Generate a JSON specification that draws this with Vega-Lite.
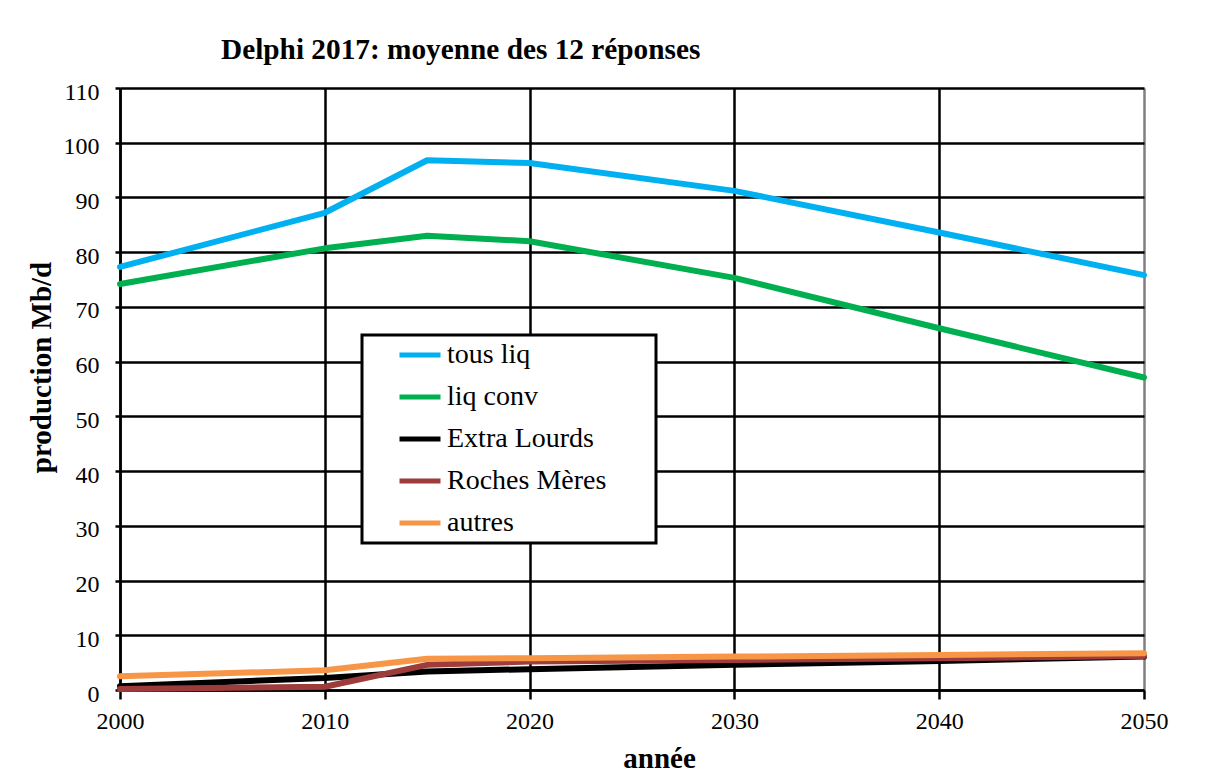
{
  "$schema": "https://vega.github.io/schema/vega-lite/v6.json",
  "width": 1024,
  "height": 602,
  "autosize": {"type": "none"},
  "padding": {"left": 120, "top": 88, "right": 69, "bottom": 86},
  "background": "white",
  "title": {
    "text": "Delphi 2017: moyenne des 12 réponses",
    "anchor": "start",
    "frame": "group",
    "font": "Liberation Serif",
    "fontSize": 29.3,
    "fontWeight": "bold",
    "color": "black",
    "dx": 101,
    "offset": 15
  },
  "data": {
    "values": [
      {"annee": 2000, "serie": "tous liq", "valeur": 77.3},
      {"annee": 2010, "serie": "tous liq", "valeur": 87.2},
      {"annee": 2015, "serie": "tous liq", "valeur": 96.8},
      {"annee": 2020, "serie": "tous liq", "valeur": 96.3},
      {"annee": 2030, "serie": "tous liq", "valeur": 91.2},
      {"annee": 2040, "serie": "tous liq", "valeur": 83.6},
      {"annee": 2050, "serie": "tous liq", "valeur": 75.8},
      {"annee": 2000, "serie": "liq conv", "valeur": 74.2},
      {"annee": 2010, "serie": "liq conv", "valeur": 80.7},
      {"annee": 2015, "serie": "liq conv", "valeur": 83.0},
      {"annee": 2020, "serie": "liq conv", "valeur": 82.0},
      {"annee": 2030, "serie": "liq conv", "valeur": 75.3},
      {"annee": 2040, "serie": "liq conv", "valeur": 66.1},
      {"annee": 2050, "serie": "liq conv", "valeur": 57.1},
      {"annee": 2000, "serie": "Extra Lourds", "valeur": 0.7},
      {"annee": 2010, "serie": "Extra Lourds", "valeur": 2.2},
      {"annee": 2015, "serie": "Extra Lourds", "valeur": 3.4},
      {"annee": 2020, "serie": "Extra Lourds", "valeur": 3.8},
      {"annee": 2030, "serie": "Extra Lourds", "valeur": 4.6},
      {"annee": 2040, "serie": "Extra Lourds", "valeur": 5.3},
      {"annee": 2050, "serie": "Extra Lourds", "valeur": 6.1},
      {"annee": 2000, "serie": "Roches Mères", "valeur": 0.2},
      {"annee": 2010, "serie": "Roches Mères", "valeur": 0.6},
      {"annee": 2015, "serie": "Roches Mères", "valeur": 4.6},
      {"annee": 2020, "serie": "Roches Mères", "valeur": 5.2},
      {"annee": 2030, "serie": "Roches Mères", "valeur": 5.5},
      {"annee": 2040, "serie": "Roches Mères", "valeur": 5.8},
      {"annee": 2050, "serie": "Roches Mères", "valeur": 6.2},
      {"annee": 2000, "serie": "autres", "valeur": 2.5},
      {"annee": 2010, "serie": "autres", "valeur": 3.6},
      {"annee": 2015, "serie": "autres", "valeur": 5.7},
      {"annee": 2020, "serie": "autres", "valeur": 5.8},
      {"annee": 2030, "serie": "autres", "valeur": 6.1},
      {"annee": 2040, "serie": "autres", "valeur": 6.4},
      {"annee": 2050, "serie": "autres", "valeur": 6.7}
    ]
  },
  "mark": {"type": "line", "strokeWidth": 6, "strokeCap": "round", "strokeJoin": "round"},
  "encoding": {
    "x": {
      "field": "annee",
      "type": "quantitative",
      "scale": {"domain": [2000, 2050], "nice": false, "zero": false},
      "axis": {
        "title": "année",
        "values": [2000, 2010, 2020, 2030, 2040, 2050],
        "format": "d",
        "grid": true,
        "gridColor": {"condition": {"test": "datum.value === 2050", "value": "#7f7f7f"}, "value": "black"},
        "gridWidth": 2.5,
        "gridOpacity": 1,
        "domainColor": "black",
        "domainWidth": 2.5,
        "tickColor": "black",
        "tickWidth": 2.5,
        "tickSize": 9,
        "labelPadding": 10,
        "labelFont": "Liberation Serif",
        "labelFontSize": 24,
        "labelColor": "black",
        "labelFlush": false,
        "titleFont": "Liberation Serif",
        "titleFontSize": 29,
        "titleFontWeight": "bold",
        "titleColor": "black",
        "titleBaseline": "alphabetic",
        "titleX": 539,
        "titleY": 77
      }
    },
    "y": {
      "field": "valeur",
      "type": "quantitative",
      "scale": {"domain": [0, 110], "nice": false},
      "axis": {
        "title": "production Mb/d",
        "values": [0, 10, 20, 30, 40, 50, 60, 70, 80, 90, 100, 110],
        "grid": true,
        "gridColor": "black",
        "gridWidth": 2.5,
        "gridOpacity": 1,
        "domainColor": "black",
        "domainWidth": 2.5,
        "tickColor": "black",
        "tickWidth": 2.5,
        "tickSize": 5,
        "labelPadding": 16,
        "labelOffset": 4,
        "labelFont": "Liberation Serif",
        "labelFontSize": 24,
        "labelColor": "black",
        "labelFlush": false,
        "titleFont": "Liberation Serif",
        "titleFontSize": 29,
        "titleFontWeight": "bold",
        "titleColor": "black",
        "titleAngle": -90,
        "titleAlign": "center",
        "titleBaseline": "alphabetic",
        "titleX": -70,
        "titleY": 279
      }
    },
    "color": {
      "field": "serie",
      "type": "nominal",
      "sort": ["tous liq", "liq conv", "Extra Lourds", "Roches Mères", "autres"],
      "scale": {
        "domain": ["tous liq", "liq conv", "Extra Lourds", "Roches Mères", "autres"],
        "range": ["#00B0F0", "#00B050", "#000000", "#9E3B3B", "#F79646"]
      },
      "legend": {
        "title": " ",
        "titleOrient": "right",
        "titlePadding": 44,
        "titleFontSize": 2,
        "orient": "none",
        "legendX": 242,
        "legendY": 247,
        "symbolType": "stroke",
        "symbolSize": 1681,
        "symbolStrokeWidth": 5,
        "symbolOffset": 29,
        "labelOffset": 4,
        "labelFont": "Liberation Serif",
        "labelFontSize": 28,
        "labelColor": "black",
        "labelLimit": 400,
        "clipHeight": 28,
        "rowPadding": 14,
        "padding": 6,
        "strokeColor": "black",
        "fillColor": "white",
        "encode": {
          "legend": {"update": {"strokeWidth": {"value": 3}}}
        }
      }
    }
  },
  "config": {
    "view": {"stroke": null},
    "font": "Liberation Serif",
    "axis": {"labelFont": "Liberation Serif", "titleFont": "Liberation Serif"}
  }
}
